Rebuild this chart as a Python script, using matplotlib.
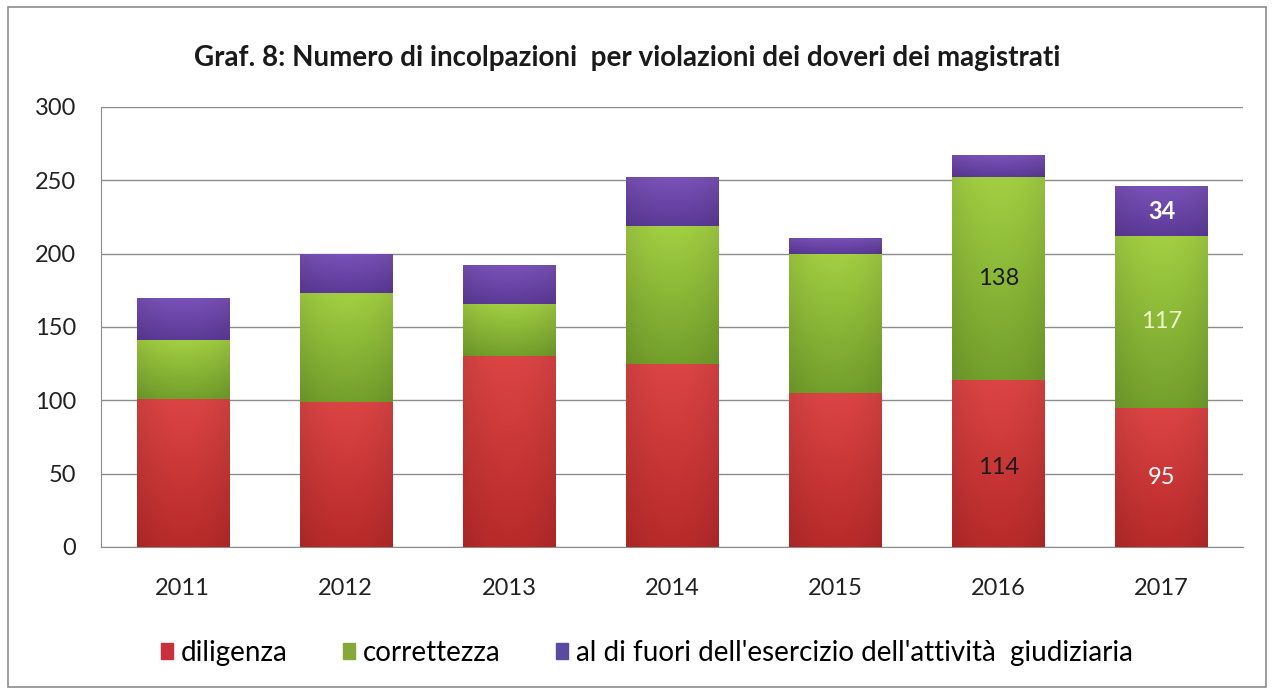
import matplotlib
matplotlib.use("Agg")
import matplotlib.pyplot as plt
import numpy as np
from matplotlib.patches import Rectangle

years = ["2011", "2012", "2013", "2014", "2015", "2016", "2017"]
diligenza = [101, 99, 130, 125, 105, 114, 95]
correttezza = [40, 74, 36, 94, 95, 138, 117]
fuori = [29, 27, 26, 33, 11, 15, 34]
series_names = ["diligenza", "correttezza", "al di fuori dell'esercizio dell'attività  giudiziaria"]
title = "Graf. 8: Numero di incolpazioni  per violazioni dei doveri dei magistrati"

plt.rcParams['font.family'] = ['Lato', 'DejaVu Sans']

fig = plt.figure(figsize=(12.74, 6.93), dpi=100)
ax = fig.add_axes([0.0793, 0.2107, 0.8964, 0.6349])

x = np.arange(len(years))
w = 0.565
top_cols = ["#dc4444", "#a2cf42", "#7a52b8"]
bot_cols = ["#b82a2a", "#73a02c", "#5c3a98"]
legend_cols = ["#c8303c", "#86a83a", "#5a4aa0"]

bottoms = np.zeros(len(years))
for vals, tc, bc in zip([diligenza, correttezza, fuori], top_cols, bot_cols):
    bars = ax.bar(x, vals, w, bottom=bottoms, color=bc, edgecolor='none', zorder=3)
    for p in bars:
        xx, yy = p.get_x(), p.get_y()
        ww, hh = p.get_width(), p.get_height()
        c1 = np.array(matplotlib.colors.to_rgb(tc))
        c2 = np.array(matplotlib.colors.to_rgb(bc))
        t = np.linspace(0, 1, 64)[:, None, None]
        grad = c1 * (1 - t) + c2 * t
        hx = 1 - 0.08 * (np.abs(np.linspace(-1, 1, 32)) ** 2)
        img = grad * hx[None, :, None]
        im = ax.imshow(np.clip(img, 0, 1), extent=[xx, xx + ww, yy, yy + hh],
                       aspect='auto', zorder=3.5, origin='upper')
        im.set_clip_path(p)
    bottoms = bottoms + np.array(vals)

ax.set_xlim(-0.5, len(years) - 0.5)
ax.set_ylim(0, 300)
ax.set_yticks([0, 50, 100, 150, 200, 250, 300])
ax.set_xticks(x)
ax.set_xticklabels(years)
ax.tick_params(axis='both', length=0, labelsize=17, colors='#222222')
ax.tick_params(axis='y', pad=18)
ax.tick_params(axis='x', pad=22)
ax.yaxis.grid(True, color='#8c8c8c', linewidth=1.0, zorder=0)
ax.set_axisbelow(True)
for s in ['top', 'right']:
    ax.spines[s].set_visible(False)
ax.spines['left'].set_color('#8c8c8c')
ax.spines['bottom'].set_color('#8c8c8c')

# data labels for 2016 and 2017
i16, i17 = 5, 6
ax.text(i16, diligenza[i16] / 2 - 3, str(diligenza[i16]), ha='center', va='center', fontsize=17, color='#1a1a1a', zorder=5)
ax.text(i16, diligenza[i16] + correttezza[i16] / 2, str(correttezza[i16]), ha='center', va='center', fontsize=17, color='#1a1a1a', zorder=5)
ax.text(i17, diligenza[i17] / 2, str(diligenza[i17]), ha='center', va='center', fontsize=17, color='#ffffff', zorder=5)
ax.text(i17, diligenza[i17] + correttezza[i17] / 2, str(correttezza[i17]), ha='center', va='center', fontsize=17, color='#f0f8c8', zorder=5)
ax.text(i17, diligenza[i17] + correttezza[i17] + fuori[i17] / 2, str(fuori[i17]), ha='center', va='center', fontsize=17, color='#ffffff', fontweight='bold', zorder=5)

fig.text(0.492, 0.916, title, ha='center', va='center', fontsize=20, fontweight='bold', color='#1a1a1a')

handles = [Rectangle((0, 0), 1, 1, color=c) for c in legend_cols]
fig.legend(handles, series_names, loc='center', bbox_to_anchor=(0.508, 0.058), ncol=3,
           frameon=False, fontsize=20, handlelength=0.42, handleheight=0.55,
           handletextpad=0.3, columnspacing=2.0)

# outer frame
fig.patches.append(Rectangle((0.006, 0.008), 0.988, 0.982, transform=fig.transFigure,
                             fill=False, edgecolor='#8c8c8c', linewidth=1.2))

fig.savefig("out.png", dpi=100)
